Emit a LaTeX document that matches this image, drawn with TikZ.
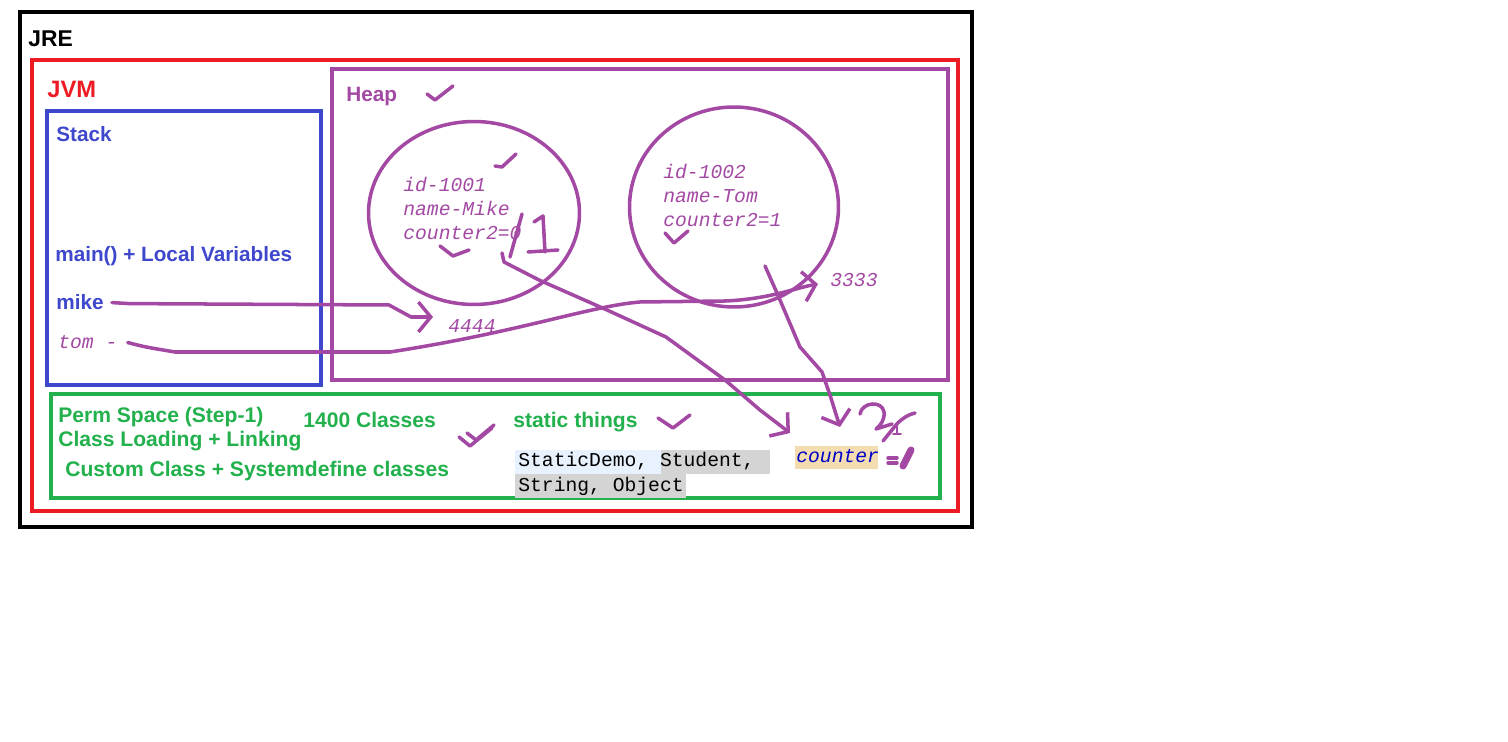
\documentclass[tikz,border=0pt]{standalone}
\usepackage{fontspec}
\setmainfont{Liberation Sans}
\setmonofont{Liberation Mono}
\usetikzlibrary{arrows.meta,shapes.geometric}

\definecolor{jvmred}{RGB}{237,28,36}
\definecolor{stackblue}{RGB}{63,72,204}
\definecolor{heappurple}{RGB}{163,73,164}
\definecolor{permgreen}{RGB}{34,177,76}
\definecolor{cntblue}{RGB}{0,0,200}
\definecolor{cnttan}{RGB}{242,220,176}
\definecolor{hlblue}{RGB}{232,242,254}
\definecolor{hlgray}{RGB}{212,212,212}

\begin{document}
\begin{tikzpicture}[x=0.02cm, y=-0.02cm,
		area/.style={line width=2.2pt},
		title/.style={anchor=base west, inner sep=0pt, font=\fontsize{11.8}{14}\selectfont\bfseries},
		permtext/.style={title, permgreen, font=\fontsize{12}{14}\selectfont\bfseries},
		mono/.style={anchor=base west, inner sep=0pt, font=\fontsize{11.2}{13.6}\selectfont\ttfamily},
		monoit/.style={mono, font=\fontsize{11.2}{13.6}\selectfont\ttfamily\itshape},
		obj/.style={ellipse, draw=heappurple, line width=2pt, inner sep=0pt},
		hand/.style={heappurple, line width=2pt, line cap=round, line join=round},
		handarrow/.style={hand, -{Straight Barb[length=7pt,width=17pt,line width=2pt]}}]
		\fill[white] (0,0) rectangle (1508,742);
		\useasboundingbox (0,0) rectangle (1508,742);
		% memory areas
		\draw[area, black] (20,12) rectangle (972,527);
		\draw[area, jvmred] (32,60) rectangle (958,511);
		\draw[area, stackblue] (47,111) rectangle (321,385);
		\draw[area, heappurple] (332,69) rectangle (948,380);
		\draw[area, permgreen] (51,394) rectangle (940,498);
		\node[title, font=\fontsize{13}{15}\selectfont\bfseries] (jre) at (28,47) {JRE};
		\node[title, jvmred, font=\fontsize{13.5}{15}\selectfont\bfseries] (jvm) at (47,98) {JVM};
		% stack
		\node[title, stackblue] (stack) at (56,142) {Stack};
		\node[title, stackblue] (locals) at (55,262) {main() + Local Variables};
		\node[title, stackblue] (mike) at (56,310) {mike};
		\node[monoit, heappurple] (tom) at (58,349) {tom -};
		% heap
		\node[title, heappurple] (heap) at (346,102) {Heap};
		\node[obj, minimum width=4.22cm, minimum height=3.66cm] (mikeobj) at (474,213) {};
		\node[obj, minimum width=4.18cm, minimum height=4cm] (tomobj) at (734,207) {};
		\foreach \t [count=\i] in {id-1001,name-Mike,counter2=0}
			\node[monoit, heappurple] (mike\i) at (403,168+24*\i) {\t};
		\foreach \t [count=\i] in {id-1002,name-Tom,counter2=1}
			\node[monoit, heappurple] (tom\i) at (663,155+24*\i) {\t};
		\node[monoit, heappurple] (addr1) at (448,333) {4444};
		\node[monoit, heappurple] (addr2) at (830,287) {3333};
		% perm space
		\node[permtext] (perm) at (58,423) {Perm Space (Step-1)};
		\node[permtext] (linking) at (58,447) {Class Loading + Linking};
		\node[permtext] (custom) at (65,477) {Custom Class + Systemdefine classes};
		\node[permtext] (loaded) at (303,428) {1400 Classes};
		\node[permtext] (static) at (513,428) {static things};
		\fill[hlblue] (515,450) rectangle (661,474);
		\fill[hlgray] (661,450) rectangle (770,474);
		\fill[hlgray] (515,474) rectangle (686,498);
		\node[mono] (classes1) at (518,467) {StaticDemo, Student,};
		\node[mono] (classes2) at (518,492) {String, Object};
		\fill[cnttan] (795,446) rectangle (878,469);
		\node[monoit, cntblue] (counter) at (796,463) {counter};
		% references
		\coordinate (mikeref) at (433,317);
		\coordinate (tomref) at (818,284);
		\coordinate (mikecnt) at (502,253);
		\coordinate (tomcnt) at (765,266);
		\coordinate (cntin1) at (790,433);
		\coordinate (cntin2) at (840,427);
		\draw[handarrow] (mike.east) ++(8,0) -- ++(17,1) -- (389,305) -- (411,317) -- (mikeref);
		\draw[handarrow] (tom.east) ++(10,0) .. controls (145,347) .. (175,352) -- (390,352)
			.. controls (520,332) and (590,306) .. (640,302) -- (725,301)
			.. controls (770,299) and (795,288) .. (tomref);
		\draw[handarrow] (mikecnt) -- (504,262) -- (539,280) -- (607,310) -- (666,337)
			-- (725,380) -- (760,410) -- (cntin1);
		\draw[handarrow] (tomcnt) -- (777,293) -- (800,347) -- (822,372) -- (830,395) -- (cntin2);
		% scribbles
		\draw[hand] (427,94) -- (435,100) -- (453,86);
		\draw[hand] (495,166) -- (502,167) -- (516,154);
		\draw[hand] (440,246) -- (453,256) -- (469,250);
		\draw[hand] (665,233) -- (674,243) -- (688,231);
		\draw[hand] (658,418) -- (673,428) -- (690,415);
		\draw[hand] (459,437) -- (470,446) -- (492,428);
		\draw[hand] (467,433) -- (476,440) -- (494,425);
		\draw[hand] (522,214) -- (510,257);
		\draw[hand] (534,222) -- (543,216) -- (545,252);
		\draw[hand] (528,252) -- (558,250);
		\draw[hand] (860,414) .. controls (862,402) and (882,400) .. (884,412)
			.. controls (885,420) and (880,426) .. (876,429) -- (892,424);
		\draw[hand] (883,441) -- (896,425) .. controls (902,418) and (910,414) .. (915,413);
		\draw[hand, line width=1pt] (897,425) -- (897,434) (893,434) -- (901,434);
		\draw[hand] (888,458) -- (897,458) (888,463) -- (897,463);
		\draw[hand, line width=4pt] (911,450) -- (903,466);
\end{tikzpicture}
\end{document}
